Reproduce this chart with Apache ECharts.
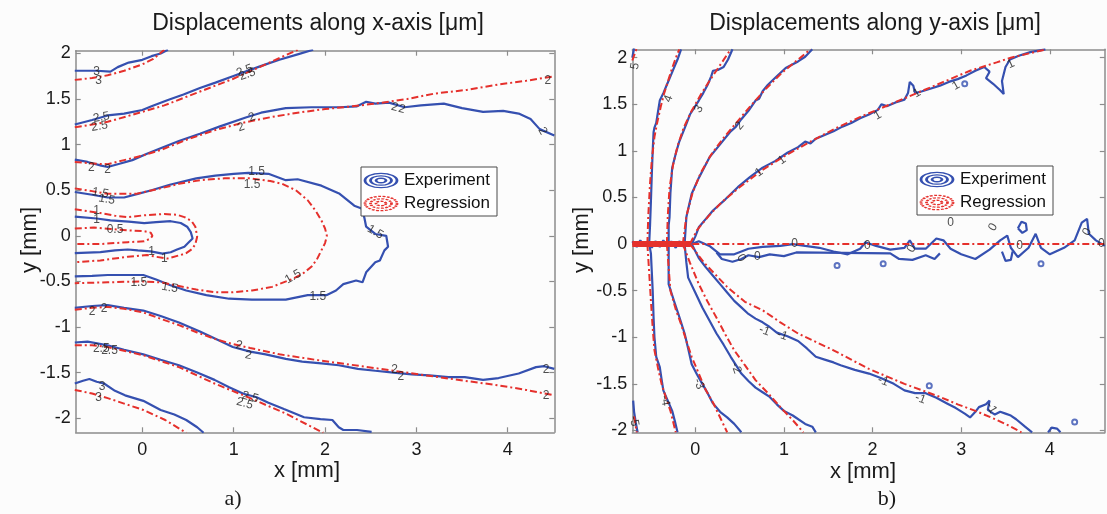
<!DOCTYPE html>
<html>
<head>
<meta charset="utf-8">
<script src="https://cdn.jsdelivr.net/npm/echarts@6/dist/echarts.min.js"></script>
<style>
  html, body { margin: 0; padding: 0; background: #fcfcfc; }
  #chart { width: 1107px; height: 514px; }
</style>
</head>
<body>
<div id="chart"></div>
<script>
// ---------- axes ----------
const xTicks = [0, 1, 2, 3, 4];
const yTicks = [-2, -1.5, -1, -0.5, 0, 0.5, 1, 1.5, 2];
const xdXRange = [-0.73, 4.51];
const xdYRange = [-2.155, 2.03];
const ydXRange = [-0.71, 4.62];
const ydYRange = [-2.02, 2.09];

// ---------- displacements along x: measured contours ----------
const xdExp3Top = [[-0.74,1.81],[-0.5,1.81],[-0.35,1.8],[-0.27,1.85],[-0.15,1.9],[0.0,1.93],[0.1,1.97],[0.2,2.0],[0.28,2.04]];
const xdExp25Top = [[-0.74,1.22],[-0.55,1.27],[-0.38,1.32],[-0.2,1.34],[0.0,1.38],[0.1,1.42],[0.28,1.49],[0.45,1.55],[0.63,1.62],[0.8,1.68],[0.99,1.75],[1.18,1.82],[1.35,1.88],[1.5,1.93],[1.7,1.99],[1.87,2.04]];
const xdExp2Top = [[-0.74,0.835],[-0.6,0.81],[-0.45,0.77],[-0.38,0.755],[-0.25,0.79],[-0.11,0.83],[0.05,0.9],[0.2,0.96],[0.4,1.04],[0.63,1.12],[0.85,1.2],[1.14,1.3],[1.3,1.35],[1.57,1.4],[1.85,1.41],[2.16,1.41],[2.35,1.42],[2.45,1.47],[2.55,1.45],[2.7,1.46],[2.87,1.41],[3.05,1.43],[3.3,1.45],[3.5,1.4],[3.73,1.36],[3.95,1.37],[4.12,1.34],[4.25,1.28],[4.35,1.17],[4.51,1.1]];
const xdExp15 = [[-0.74,0.48],[-0.55,0.45],[-0.38,0.42],[-0.2,0.42],[-0.05,0.46],[0.1,0.5],[0.3,0.56],[0.59,0.63],[0.8,0.66],[1.0,0.68],[1.16,0.69],[1.38,0.68],[1.57,0.61],[1.7,0.62],[1.96,0.55],[2.16,0.46],[2.32,0.33],[2.4,0.3],[2.43,0.2],[2.45,0.1],[2.55,0.02],[2.67,0.0],[2.69,-0.12],[2.65,-0.16],[2.6,-0.27],[2.55,-0.29],[2.45,-0.4],[2.41,-0.51],[2.34,-0.49],[2.2,-0.53],[2.12,-0.6],[2.02,-0.65],[1.81,-0.65],[1.57,-0.7],[1.42,-0.7],[1.2,-0.7],[0.95,-0.69],[0.7,-0.65],[0.48,-0.6],[0.3,-0.54],[0.15,-0.48],[0.01,-0.43],[-0.2,-0.43],[-0.38,-0.43],[-0.55,-0.44],[-0.74,-0.445]];
const xdExp1 = [[-0.74,0.21],[-0.5,0.19],[-0.35,0.17],[-0.15,0.155],[0.02,0.14],[0.15,0.15],[0.31,0.16],[0.42,0.14],[0.49,0.1],[0.53,0.04],[0.55,-0.03],[0.5,-0.08],[0.46,-0.12],[0.38,-0.15],[0.31,-0.18],[0.22,-0.195],[0.09,-0.17],[-0.05,-0.16],[-0.16,-0.15],[-0.3,-0.16],[-0.46,-0.18],[-0.74,-0.19]];
const xdExp2Bot = [[-0.74,-0.79],[-0.55,-0.77],[-0.38,-0.76],[-0.2,-0.79],[0.01,-0.82],[0.2,-0.88],[0.4,-0.95],[0.63,-1.05],[0.8,-1.13],[0.99,-1.22],[1.18,-1.27],[1.35,-1.3],[1.57,-1.35],[1.75,-1.38],[1.96,-1.4],[2.15,-1.42],[2.36,-1.46],[2.55,-1.48],[2.75,-1.5],[2.95,-1.52],[3.14,-1.53],[3.35,-1.55],[3.53,-1.55],[3.73,-1.58],[3.9,-1.56],[4.12,-1.51],[4.31,-1.44],[4.4,-1.43],[4.51,-1.46]];
const xdExp25Bot = [[-0.74,-1.17],[-0.6,-1.16],[-0.38,-1.2],[-0.2,-1.25],[0.01,-1.3],[0.2,-1.36],[0.4,-1.42],[0.6,-1.5],[0.79,-1.58],[0.95,-1.66],[1.1,-1.73],[1.25,-1.77],[1.38,-1.83],[1.55,-1.9],[1.77,-1.99],[1.95,-2.01],[2.08,-2.02],[2.15,-2.1],[2.2,-2.13],[2.35,-2.13],[2.51,-2.15]];
const xdExp3Bot = [[-0.74,-1.62],[-0.65,-1.59],[-0.58,-1.57],[-0.5,-1.6],[-0.42,-1.62],[-0.3,-1.7],[-0.19,-1.75],[0.01,-1.81],[0.2,-1.91],[0.35,-1.96],[0.48,-2.02],[0.6,-2.1],[0.67,-2.16]];

// ---------- displacements along x: regression contours ----------
const xdReg3Top = [[-0.74,1.71],[-0.55,1.73],[-0.38,1.76],[-0.2,1.81],[0,1.88],[0.12,1.94],[0.24,2.04]];
const xdReg25Top = [[-0.74,1.19],[-0.55,1.22],[-0.38,1.25],[-0.1,1.33],[0.24,1.43],[0.6,1.57],[0.99,1.72],[1.35,1.88],[1.7,2.04]];
const xdReg2Top = [[-0.74,0.81],[-0.5,0.79],[-0.38,0.785],[-0.2,0.83],[0.0,0.88],[0.2,0.94],[0.5,1.06],[0.8,1.16],[1.1,1.24],[1.4,1.3],[1.7,1.35],[2.0,1.39],[2.3,1.42],[2.55,1.45],[2.9,1.5],[3.2,1.56],[3.55,1.6],[3.9,1.66],[4.2,1.7],[4.51,1.75]];
const xdReg15 = [[-0.74,0.52],[-0.55,0.49],[-0.38,0.46],[-0.07,0.46],[0.2,0.52],[0.4,0.57],[0.63,0.61],[0.9,0.63],[1.18,0.63],[1.4,0.6],[1.53,0.57],[1.68,0.5],[1.81,0.39],[1.9,0.27],[1.96,0.17],[2.0,0.08],[2.02,0],[2.0,-0.08],[1.96,-0.16],[1.91,-0.26],[1.85,-0.34],[1.75,-0.42],[1.65,-0.47],[1.42,-0.56],[1.2,-0.6],[0.99,-0.62],[0.8,-0.62],[0.59,-0.59],[0.4,-0.55],[0.2,-0.51],[0.0,-0.5],[-0.38,-0.51],[-0.74,-0.52]];
const xdReg1 = [[-0.74,0.29],[-0.46,0.25],[-0.3,0.22],[-0.16,0.205],[0.02,0.225],[0.24,0.24],[0.38,0.23],[0.46,0.205],[0.54,0.16],[0.58,0.1],[0.6,-0.01],[0.58,-0.09],[0.55,-0.14],[0.48,-0.19],[0.42,-0.21],[0.27,-0.25],[0.15,-0.23],[0.05,-0.21],[-0.16,-0.23],[-0.46,-0.27],[-0.74,-0.29]];
const xdReg05 = [[-0.74,0.08],[-0.53,0.09],[-0.35,0.075],[-0.16,0.06],[0.02,0.05],[0.09,0.035],[0.11,0.0],[0.09,-0.03],[0.02,-0.06],[-0.16,-0.07],[-0.46,-0.09],[-0.74,-0.09]];
const xdReg2Bot = [[-0.74,-0.81],[-0.55,-0.79],[-0.38,-0.78],[-0.2,-0.8],[0.01,-0.84],[0.2,-0.91],[0.4,-0.98],[0.6,-1.06],[0.79,-1.13],[1.0,-1.19],[1.18,-1.23],[1.5,-1.3],[1.96,-1.37],[2.4,-1.43],[2.75,-1.48],[3.1,-1.53],[3.53,-1.59],[3.9,-1.64],[4.2,-1.69],[4.51,-1.75]];
const xdReg25Bot = [[-0.74,-1.2],[-0.55,-1.2],[-0.38,-1.22],[0.01,-1.31],[0.4,-1.44],[0.79,-1.62],[1.18,-1.78],[1.57,-1.95],[1.98,-2.16]];
const xdReg3Bot = [[-0.74,-1.69],[-0.55,-1.73],[-0.38,-1.78],[-0.2,-1.84],[0.01,-1.91],[0.25,-2.02],[0.48,-2.16]];

// contour labels: [x, y, text, rotation in degrees]
const xdLabels = [
  [-0.5,1.8,'3',0],[-0.48,1.7,'3',0],
  [1.12,1.81,'2.5',20],[1.15,1.77,'2.5',20],
  [-0.45,1.3,'2.5',10],[-0.47,1.2,'2.5',10],
  [1.2,1.3,'2',20],[1.08,1.19,'2',20],
  [2.76,1.41,'2',-15],[2.84,1.39,'2',-15],
  [4.44,1.7,'2',0],[4.38,1.15,'2',-60],
  [-0.56,0.75,'2',0],[-0.38,0.72,'2',0],
  [-0.46,0.47,'1.5',-10],[-0.39,0.4,'1.5',-10],
  [1.25,0.7,'1.5',0],[1.2,0.56,'1.5',0],
  [2.55,0.04,'1.5',-30],
  [-0.5,0.28,'1',0],[-0.5,0.18,'1',0],
  [-0.3,0.07,'0.5',0],
  [0.1,-0.17,'1',0],[0.24,-0.25,'1',0],
  [-0.04,-0.51,'1.5',0],[0.3,-0.57,'1.5',-10],
  [1.65,-0.45,'1.5',30],[1.92,-0.67,'1.5',0],
  [-0.55,-0.83,'2',0],[-0.42,-0.8,'2',0],
  [1.06,-1.2,'2',-10],[1.16,-1.31,'2',-10],
  [2.76,-1.47,'2',0],[2.83,-1.54,'2',0],
  [4.42,-1.47,'2',0],[4.42,-1.75,'2',0],
  [-0.45,-1.24,'2.5',0],[-0.36,-1.26,'2.5',0],
  [1.18,-1.77,'2.5',-15],[1.12,-1.84,'2.5',-15],
  [-0.44,-1.66,'3',0],[-0.48,-1.77,'3',0]
];

// ---------- displacements along y: measured contours ----------
const ydExp5Top = [[-0.71,2.0],[-0.69,2.1]];
const ydExp4Top = [[-0.52,0],[-0.51,0.2],[-0.5,0.46],[-0.49,0.75],[-0.48,1.0],[-0.47,1.2],[-0.46,1.25],[-0.44,1.3],[-0.42,1.42],[-0.4,1.54],[-0.36,1.62],[-0.32,1.71],[-0.28,1.8],[-0.24,1.89],[-0.2,1.98],[-0.16,2.09]];
const ydExp3Top = [[-0.3,0],[-0.3,0.2],[-0.29,0.29],[-0.28,0.55],[-0.26,0.82],[-0.22,0.97],[-0.18,1.1],[-0.1,1.29],[-0.06,1.39],[0.04,1.54],[0.09,1.62],[0.14,1.71],[0.18,1.8],[0.2,1.86],[0.26,1.87],[0.32,1.9],[0.37,1.98],[0.42,2.09]];
const ydExp2Top = [[-0.12,0],[-0.1,0.29],[-0.04,0.54],[0.04,0.71],[0.1,0.82],[0.16,0.93],[0.28,1.07],[0.4,1.21],[0.46,1.26],[0.52,1.34],[0.6,1.43],[0.68,1.54],[0.72,1.56],[0.76,1.64],[0.82,1.71],[0.92,1.8],[1.02,1.89],[1.16,1.96],[1.24,2.01],[1.32,2.09]];
const ydExp1Top = [[-0.04,0],[0.0,0.08],[0.04,0.18],[0.12,0.27],[0.2,0.36],[0.34,0.48],[0.48,0.61],[0.62,0.72],[0.76,0.82],[0.9,0.89],[1.04,0.98],[1.16,1.04],[1.24,1.1],[1.3,1.08],[1.36,1.13],[1.46,1.17],[1.56,1.21],[1.66,1.26],[1.76,1.3],[1.86,1.35],[1.96,1.39],[2.06,1.44],[2.1,1.5],[2.16,1.48],[2.26,1.52],[2.36,1.55],[2.4,1.62],[2.42,1.74],[2.46,1.7],[2.48,1.62],[2.56,1.64],[2.66,1.67],[2.76,1.7],[2.86,1.74],[2.96,1.77],[3.06,1.81],[3.16,1.86],[3.26,1.9],[3.32,1.85],[3.28,1.78],[3.36,1.72],[3.44,1.65],[3.48,1.61],[3.46,1.75],[3.5,1.9],[3.55,1.98],[3.65,2.02],[3.78,2.06],[3.95,2.09]];
const ydExp0 = [[-0.04,0.0],[0.04,0.03],[0.16,-0.02],[0.28,-0.11],[0.44,-0.11],[0.6,-0.05],[0.76,-0.03],[0.96,-0.02],[1.1,0.0],[1.24,-0.02],[1.4,-0.04],[1.56,-0.08],[1.72,-0.11],[1.86,-0.05],[1.92,0.02],[2.04,-0.02],[2.2,-0.06],[2.36,-0.04],[2.42,0.04],[2.48,-0.05],[2.6,-0.05],[2.72,0.06],[2.8,0.04],[2.88,-0.05],[3.0,-0.11],[3.16,-0.16],[3.32,-0.06],[3.44,0.04],[3.52,0.09],[3.56,-0.04],[3.64,-0.14],[3.76,-0.04],[3.84,0.11],[3.9,-0.04],[4.0,-0.11],[4.16,-0.04],[4.28,0.04],[4.36,0.23],[4.42,0.27],[4.44,0.11],[4.52,0.04],[4.62,-0.02]];
const ydExp0Lower = [[0.24,-0.09],[0.3,-0.16],[0.42,-0.19],[0.52,-0.16],[0.6,-0.12],[0.72,-0.14],[0.84,-0.11],[1.0,-0.13],[1.14,-0.09],[2.2,-0.1],[2.3,-0.16],[2.45,-0.17],[2.6,-0.12],[2.7,-0.16],[2.76,-0.1]];
const ydExp0Loop = [[3.64,0.17],[3.68,0.24],[3.73,0.22],[3.74,0.15],[3.69,0.12],[3.64,0.17]];
const ydExp0Loop2 = [[3.46,-0.08],[3.5,-0.18],[3.56,-0.17],[3.58,-0.08]];
const ydExpCore = [[-0.71,0.03],[-0.66,-0.03],[-0.62,0.04],[-0.57,-0.02],[-0.53,0.03],[-0.49,-0.04],[-0.45,0.03],[-0.4,-0.03],[-0.36,0.04],[-0.31,-0.03],[-0.27,0.03],[-0.22,-0.04],[-0.18,0.03],[-0.13,-0.03],[-0.08,0.02]];
const ydExp4Bot = [[-0.52,0],[-0.5,-0.1],[-0.49,-0.3],[-0.48,-0.5],[-0.47,-0.79],[-0.46,-1.0],[-0.44,-1.21],[-0.4,-1.32],[-0.38,-1.45],[-0.36,-1.57],[-0.31,-1.68],[-0.26,-1.79],[-0.23,-1.9],[-0.2,-2.02]];
const ydExp3Bot = [[-0.3,0],[-0.3,-0.2],[-0.3,-0.43],[-0.27,-0.52],[-0.24,-0.61],[-0.18,-0.78],[-0.12,-0.96],[-0.08,-1.12],[-0.04,-1.29],[0.02,-1.4],[0.08,-1.5],[0.14,-1.6],[0.2,-1.71],[0.28,-1.8],[0.36,-1.86],[0.44,-1.93],[0.52,-2.02]];
const ydExp2Bot = [[-0.12,0],[-0.1,-0.2],[-0.08,-0.36],[0.0,-0.52],[0.08,-0.68],[0.16,-0.82],[0.24,-0.96],[0.32,-1.08],[0.4,-1.21],[0.46,-1.3],[0.52,-1.39],[0.6,-1.47],[0.68,-1.54],[0.76,-1.59],[0.84,-1.64],[0.92,-1.72],[1.0,-1.79],[1.1,-1.84],[1.24,-1.93],[1.32,-1.96],[1.36,-2.02]];
const ydExp1Bot = [[-0.04,0],[0.04,-0.15],[0.12,-0.25],[0.2,-0.34],[0.28,-0.43],[0.36,-0.52],[0.44,-0.61],[0.52,-0.68],[0.6,-0.75],[0.68,-0.8],[0.76,-0.84],[0.84,-0.89],[0.92,-0.95],[1.04,-0.99],[1.16,-1.04],[1.26,-1.12],[1.36,-1.21],[1.46,-1.24],[1.56,-1.27],[1.64,-1.3],[1.8,-1.35],[1.96,-1.39],[2.1,-1.44],[2.24,-1.5],[2.36,-1.57],[2.48,-1.6],[2.6,-1.6],[2.72,-1.65],[2.84,-1.71],[2.94,-1.76],[3.04,-1.82],[3.1,-1.86],[3.16,-1.8],[3.2,-1.75],[3.28,-1.72],[3.32,-1.68],[3.3,-1.78],[3.38,-1.83],[3.44,-1.8],[3.5,-1.82],[3.56,-1.84],[3.62,-1.88],[3.72,-1.96],[3.8,-2.02]];
const ydExp5Bot = [[-0.7,-1.68],[-0.69,-1.8],[-0.67,-1.92],[-0.65,-2.02]];
const ydExpBump = [[3.98,-2.02],[4.02,-1.97],[4.08,-1.98],[4.12,-2.02]];
// small closed contours
const ydBlobs = [[1.6,-0.23],[2.12,-0.21],[3.9,-0.21],[2.64,-1.52],[4.28,-1.91],[3.04,1.72]];

// ---------- displacements along y: regression contours ----------
const ydReg5Top = [[-0.71,1.97],[-0.66,2.1]];
const ydReg4Top = [[-0.54,0],[-0.53,0.3],[-0.51,0.65],[-0.49,0.9],[-0.46,1.15],[-0.43,1.3],[-0.39,1.47],[-0.35,1.62],[-0.3,1.77],[-0.26,1.89],[-0.21,2.02],[-0.18,2.09]];
const ydReg3Top = [[-0.32,0],[-0.31,0.3],[-0.29,0.6],[-0.25,0.85],[-0.2,1.05],[-0.13,1.25],[-0.04,1.43],[0.06,1.6],[0.16,1.75],[0.28,1.92],[0.4,2.09]];
const ydReg2Top = [[-0.14,0],[-0.1,0.3],[-0.03,0.55],[0.06,0.76],[0.18,0.96],[0.32,1.14],[0.48,1.32],[0.64,1.5],[0.8,1.67],[0.98,1.84],[1.16,1.98],[1.3,2.09]];
const ydReg1Top = [[-0.06,0],[0.02,0.15],[0.15,0.3],[0.3,0.45],[0.5,0.61],[0.75,0.79],[1.0,0.94],[1.3,1.1],[1.6,1.25],[1.9,1.38],[2.2,1.5],[2.5,1.62],[2.8,1.74],[3.1,1.86],[3.4,1.95],[3.56,2.0],[3.96,2.09]];
const ydReg0 = [[-0.71,0],[4.62,0]];
const ydRegCore = [[-0.71,0],[-0.05,0]];
const ydReg4Bot = [[-0.54,0],[-0.52,-0.3],[-0.5,-0.61],[-0.48,-0.9],[-0.46,-1.14],[-0.42,-1.33],[-0.38,-1.5],[-0.33,-1.65],[-0.28,-1.79],[-0.22,-2.02]];
const ydReg3Bot = [[-0.32,0],[-0.3,-0.25],[-0.28,-0.5],[-0.22,-0.7],[-0.16,-0.86],[-0.1,-1.04],[-0.04,-1.21],[0.04,-1.39],[0.12,-1.57],[0.2,-1.7],[0.26,-1.82],[0.36,-2.02]];
const ydReg2Bot = [[-0.14,0],[-0.06,-0.2],[0.04,-0.43],[0.14,-0.62],[0.24,-0.79],[0.34,-0.97],[0.44,-1.14],[0.56,-1.3],[0.68,-1.46],[0.82,-1.6],[0.96,-1.75],[1.1,-1.89],[1.22,-2.02]];
const ydReg1Bot = [[-0.06,0],[0.1,-0.2],[0.36,-0.46],[0.56,-0.62],[0.76,-0.71],[0.96,-0.84],[1.16,-0.96],[1.36,-1.05],[1.56,-1.14],[1.76,-1.24],[1.96,-1.34],[2.16,-1.42],[2.36,-1.5],[2.56,-1.57],[2.76,-1.64],[2.96,-1.72],[3.16,-1.79],[3.36,-1.87],[3.52,-1.94],[3.68,-2.02]];
const ydReg5Bot = [[-0.69,-1.85],[-0.66,-2.02]];

const ydLabels = [
  [-0.68,1.91,'5',80],[-0.3,1.56,'4',70],[0.04,1.45,'3',60],[0.5,1.27,'2',50],
  [0.72,0.77,'1',35],[0.98,0.9,'1',35],[2.06,1.38,'1',30],[2.5,1.62,'1',30],[2.94,1.7,'1',30],[3.56,1.93,'1',25],
  [1.12,0.0,'0',0],[2.88,0.23,'0',0],[1.94,-0.02,'0',0],[2.44,-0.05,'0',60],[3.66,-0.02,'0',0],[4.58,0.0,'0',0],[3.36,0.18,'0',60],[4.42,0.13,'0',60],
  [0.52,-0.15,'0',-60],[0.7,-0.14,'0',0],
  [0.78,-0.93,'-1',-20],[0.98,-0.98,'-1',-20],[2.12,-1.47,'-1',-20],[2.54,-1.66,'-1',-20],[3.34,-1.76,'-1',-60],
  [0.46,-1.33,'-2',-70],[0.04,-1.5,'-3',-70],[-0.34,-1.68,'-4',-80],[-0.69,-1.9,'-5',-80]
];

// ---------- series groups ----------
const xdExperiment = [xdExp3Top, xdExp25Top, xdExp2Top, xdExp15, xdExp1, xdExp2Bot, xdExp25Bot, xdExp3Bot];
const xdRegression = [xdReg3Top, xdReg25Top, xdReg2Top, xdReg15, xdReg1, xdReg05, xdReg2Bot, xdReg25Bot, xdReg3Bot];
const ydExperiment = [ydExp5Top, ydExp4Top, ydExp3Top, ydExp2Top, ydExp1Top, ydExp0, ydExp0Lower, ydExp0Loop, ydExp0Loop2, ydExpCore, ydExp4Bot, ydExp3Bot, ydExp2Bot, ydExp1Bot, ydExp5Bot, ydExpBump];
const ydRegression = [ydReg5Top, ydReg4Top, ydReg3Top, ydReg2Top, ydReg1Top, ydReg0, ydReg4Bot, ydReg3Bot, ydReg2Bot, ydReg1Bot, ydReg5Bot];

// ---------- styling ----------
const BLUE = '#3550b0';
const RED = '#e5302c';
const FRAME = '#8c8c8c';
const FONT = '"Liberation Sans", Arial, sans-serif';
const SERIF = '"Liberation Serif", "DejaVu Serif", serif';

const grids = [
  { left: 75.7, top: 50.7, width: 478.6, height: 381.6 },
  { left: 632.3, top: 49.3, width: 472.5, height: 383 }
];

function xAxisFor(gridIndex, range, position, labels) {
  return {
    type: 'value', gridIndex, position, min: range[0], max: range[1],
    axisLine: { show: true, onZero: false, lineStyle: { color: FRAME, width: 1.5 } },
    axisTick: { show: true, inside: true, length: 5, customValues: xTicks, lineStyle: { color: FRAME, width: 1.2 } },
    axisLabel: { show: labels, customValues: xTicks, margin: 9, color: '#1a1a1a', fontSize: 18, fontFamily: FONT },
    splitLine: { show: false }
  };
}
function yAxisFor(gridIndex, range, position, labels) {
  return {
    type: 'value', gridIndex, position, min: range[0], max: range[1],
    axisLine: { show: true, onZero: false, lineStyle: { color: FRAME, width: 1.5 } },
    axisTick: { show: true, inside: true, length: 5, customValues: yTicks, lineStyle: { color: FRAME, width: 1.2 } },
    axisLabel: { show: labels, customValues: yTicks, margin: 5, color: '#1a1a1a', fontSize: 18, fontFamily: FONT },
    splitLine: { show: false }
  };
}

function contour(pts, axis, kind) {
  const isExp = kind === 'exp';
  return {
    type: 'line', xAxisIndex: axis, yAxisIndex: axis, data: pts,
    symbol: 'none', showSymbol: false, clip: true, silent: true, animation: false,
    z: isExp ? 2 : 3,
    lineStyle: isExp
      ? { color: BLUE, width: 2.2 }
      : { color: RED, width: 2, type: [7, 3, 2, 3] }
  };
}

function labelSeries(list, axis) {
  return {
    type: 'scatter', xAxisIndex: axis, yAxisIndex: axis, z: 6, silent: true, animation: false,
    symbolSize: 1, itemStyle: { color: 'rgba(0,0,0,0)' },
    data: list.map(l => ({
      value: [l[0], l[1]], name: l[2],
      label: { show: true, position: 'inside', formatter: '{b}', rotate: l[3],
               color: '#222', fontSize: 12, fontFamily: FONT }
    }))
  };
}

const series = [];
xdExperiment.forEach(p => series.push(contour(p, 0, 'exp')));
xdRegression.forEach(p => series.push(contour(p, 0, 'reg')));
ydExperiment.forEach(p => series.push(contour(p, 2, 'exp')));
ydRegression.forEach(p => series.push(contour(p, 2, 'reg')));
// dense bundle of contours near the origin
series.push({
  type: 'line', xAxisIndex: 2, yAxisIndex: 2, data: ydRegCore, symbol: 'none', silent: true,
  animation: false, z: 3, lineStyle: { color: RED, width: 6 }
});
series.push({
  type: 'scatter', xAxisIndex: 2, yAxisIndex: 2, data: ydBlobs, symbol: 'emptyCircle', symbolSize: 5,
  silent: true, animation: false, z: 2, itemStyle: { color: BLUE, borderColor: BLUE, borderWidth: 1.6 }
});
series.push(labelSeries(xdLabels, 0));
series.push(labelSeries(ydLabels, 2));

// legend box drawn with graphic elements
function legendBox(x, y) {
  const w = 136, h = 49, cx = x + 20, r1 = y + 13.5, r2 = y + 36.5;
  const rings = (cy, color, dash) => ({
    type: 'group', x: cx, y: cy, scaleY: 0.45,
    children: [16, 10.5, 5].map(r => ({
      type: 'circle', z: 11, shape: { cx: 0, cy: 0, r },
      style: dash
        ? { fill: 'none', stroke: color, lineWidth: 2.8, lineDash: dash, strokeNoScale: true }
        : { fill: 'none', stroke: color, lineWidth: 2.8, strokeNoScale: true }
    }))
  });
  return [
    { type: 'rect', shape: { x, y, width: w, height: h }, style: { fill: '#ffffff', stroke: '#4a4a4a', lineWidth: 1 }, z: 10 },
    rings(r1, BLUE, null),
    rings(r2, RED, [3, 1.5]),
    { type: 'text', x: x + 43, y: r1, z: 11, style: { text: 'Experiment', font: '17px ' + FONT, fill: '#111', textVerticalAlign: 'middle' } },
    { type: 'text', x: x + 43, y: r2, z: 11, style: { text: 'Regression', font: '17px ' + FONT, fill: '#111', textVerticalAlign: 'middle' } }
  ];
}

function txt(x, y, text, font, rot) {
  return { type: 'text', x, y, rotation: rot || 0, z: 12,
    style: { text, font, fill: '#1a1a1a', textAlign: 'center', textVerticalAlign: 'middle' } };
}

const graphic = [
  txt(318, 24, 'Displacements along x-axis [\u03bcm]', '23px ' + FONT),
  txt(875, 24, 'Displacements along y-axis [\u03bcm]', '23px ' + FONT),
  txt(307, 471, 'x [mm]', '22px ' + FONT),
  txt(863, 472, 'x [mm]', '22px ' + FONT),
  txt(30, 240, 'y [mm]', '22px ' + FONT, Math.PI / 2),
  txt(582, 240, 'y [mm]', '22px ' + FONT, Math.PI / 2),
  txt(233, 499, 'a)', '22px ' + SERIF),
  txt(887, 499, 'b)', '22px ' + SERIF)
].concat(legendBox(361, 167), legendBox(917, 166));

const chart = echarts.init(document.getElementById('chart'), null, { renderer: 'canvas' });
chart.setOption({
  backgroundColor: '#fcfcfc',
  animation: false,
  grid: grids,
  xAxis: [
    xAxisFor(0, xdXRange, 'bottom', true), xAxisFor(0, xdXRange, 'top', false),
    xAxisFor(1, ydXRange, 'bottom', true), xAxisFor(1, ydXRange, 'top', false)
  ],
  yAxis: [
    yAxisFor(0, xdYRange, 'left', true), yAxisFor(0, xdYRange, 'right', false),
    yAxisFor(1, ydYRange, 'left', true), yAxisFor(1, ydYRange, 'right', false)
  ],
  series,
  graphic
});
</script>
</body>
</html>
